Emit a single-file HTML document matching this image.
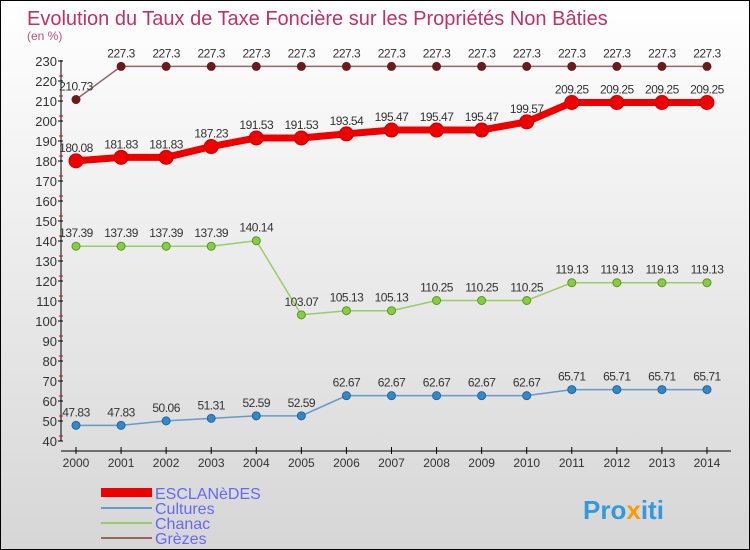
<!DOCTYPE html>
<html><head><meta charset="utf-8"><style>
body{margin:0}
#c{width:748px;height:548px;border:1px solid #000;background:linear-gradient(#fff,#d6d6d6);position:relative;font-family:"Liberation Sans",sans-serif;overflow:hidden}
</style></head><body>
<div id="c">
<svg id="s" width="748" height="548" xmlns="http://www.w3.org/2000/svg">
<text x="26" y="24" font-size="20" fill="#c0306a">Evolution du Taux de Taxe Foncière sur les Propriétés Non Bâties</text>
<text x="26" y="39" font-size="12" fill="#c0507a">(en %)</text>
<g id="axes"></g><g id="series"></g>
<g>
<rect x="100" y="487" width="51" height="9" fill="#e00"/>
<text x="154" y="498" font-size="16" fill="#6666ff">ESCLANèDES</text>
<line x1="100" y1="507" x2="151" y2="507" stroke="#6699cc" stroke-width="2"/>
<text x="154" y="513" font-size="16" fill="#6666ff">Cultures</text>
<line x1="100" y1="522" x2="151" y2="522" stroke="#99cc66" stroke-width="2"/>
<text x="154" y="528" font-size="16" fill="#6666ff">Chanac</text>
<line x1="100" y1="537" x2="151" y2="537" stroke="#996666" stroke-width="2"/>
<text x="154" y="543" font-size="16" fill="#6666ff">Grèzes</text>
</g>
<text x="582" y="518" font-size="26" font-weight="bold" fill="#3399dd">Pro<tspan fill="#ff9900">x</tspan>iti</text>
</svg>
</div>
<script>
const years=[2000,2001,2002,2003,2004,2005,2006,2007,2008,2009,2010,2011,2012,2013,2014];
const esclanedes=[180.08,181.83,181.83,187.23,191.53,191.53,193.54,195.47,195.47,195.47,199.57,209.25,209.25,209.25,209.25];
const cultures=[47.83,47.83,50.06,51.31,52.59,52.59,62.67,62.67,62.67,62.67,62.67,65.71,65.71,65.71,65.71];
const chanac=[137.39,137.39,137.39,137.39,140.14,103.07,105.13,105.13,110.25,110.25,110.25,119.13,119.13,119.13,119.13];
const grezes=[210.73,227.3,227.3,227.3,227.3,227.3,227.3,227.3,227.3,227.3,227.3,227.3,227.3,227.3,227.3];
const yTicks=[40,50,60,70,80,90,100,110,120,130,140,150,160,170,180,190,200,210,220,230];
const NS="http://www.w3.org/2000/svg";
const xS=i=>75+i*45.07, yS=v=>440-(v-40)*2;
function mk(t,a,p){const e=document.createElementNS(NS,t);for(const k in a)e.setAttribute(k,a[k]);p.appendChild(e);return e;}
const ax=document.getElementById('axes'), se=document.getElementById('series');
let l=mk('line',{x1:60,y1:59,x2:60,y2:440,stroke:'#000'},ax);


yTicks.forEach((v,k)=>{
  const y=yS(v);
  const t=mk('line',{x1:57,y1:y,x2:62,y2:y,stroke:'#000'},ax);
  
  
  if(k<yTicks.length-1){
    const m=mk('line',{x1:58,y1:y-5,x2:62,y2:y-5,stroke:'#e00'},ax);
    
    
  }
  const tx=mk('text',{x:56,y:y+5,'font-size':13,fill:'#333','text-anchor':'end'},ax);
  tx.textContent=v;
  
  
});
l=mk('line',{x1:60,y1:450,x2:730,y2:450,stroke:'#000'},ax);


years.forEach((yr,i)=>{
  const x=xS(i);
  const t=mk('line',{x1:x,y1:446,x2:x,y2:453,stroke:'#000'},ax);
  
  
  const tx=mk('text',{x:x,y:466,'font-size':12,fill:'#333','text-anchor':'middle'},ax);
  tx.textContent=yr;
  
  
});
function series(name,vals,color,w,r,dot,fill){
  const g=mk('g',{},se);
  
  
  const p=mk('polyline',{points:vals.map((v,i)=>xS(i)+','+yS(v)).join(' '),fill:'none',stroke:color,'stroke-width':w},g);
  
  
  vals.forEach((v,i)=>{
    const c=mk('circle',{cx:xS(i),cy:yS(v),r:r,fill:dot,stroke:fill,'stroke-width':1},g);
    
    
    const t=mk('text',{x:xS(i),y:yS(v)-9,'font-size':12,fill:'#333','text-anchor':'middle','letter-spacing':'-0.5'},g);
    t.textContent=v;
    
    
  });
}
series('grezes',grezes,'#996666',1.5,4,'#6b1a1a','#6b1a1a');
series('chanac',chanac,'#99cc66',1.5,4,'#88cc44','#559922');
series('cultures',cultures,'#6699cc',1.5,4,'#3388cc','#226699');
series('esclanedes',esclanedes,'#ee0000',7,7,'#ee0000','#cc0000');
</script>
</body></html>
